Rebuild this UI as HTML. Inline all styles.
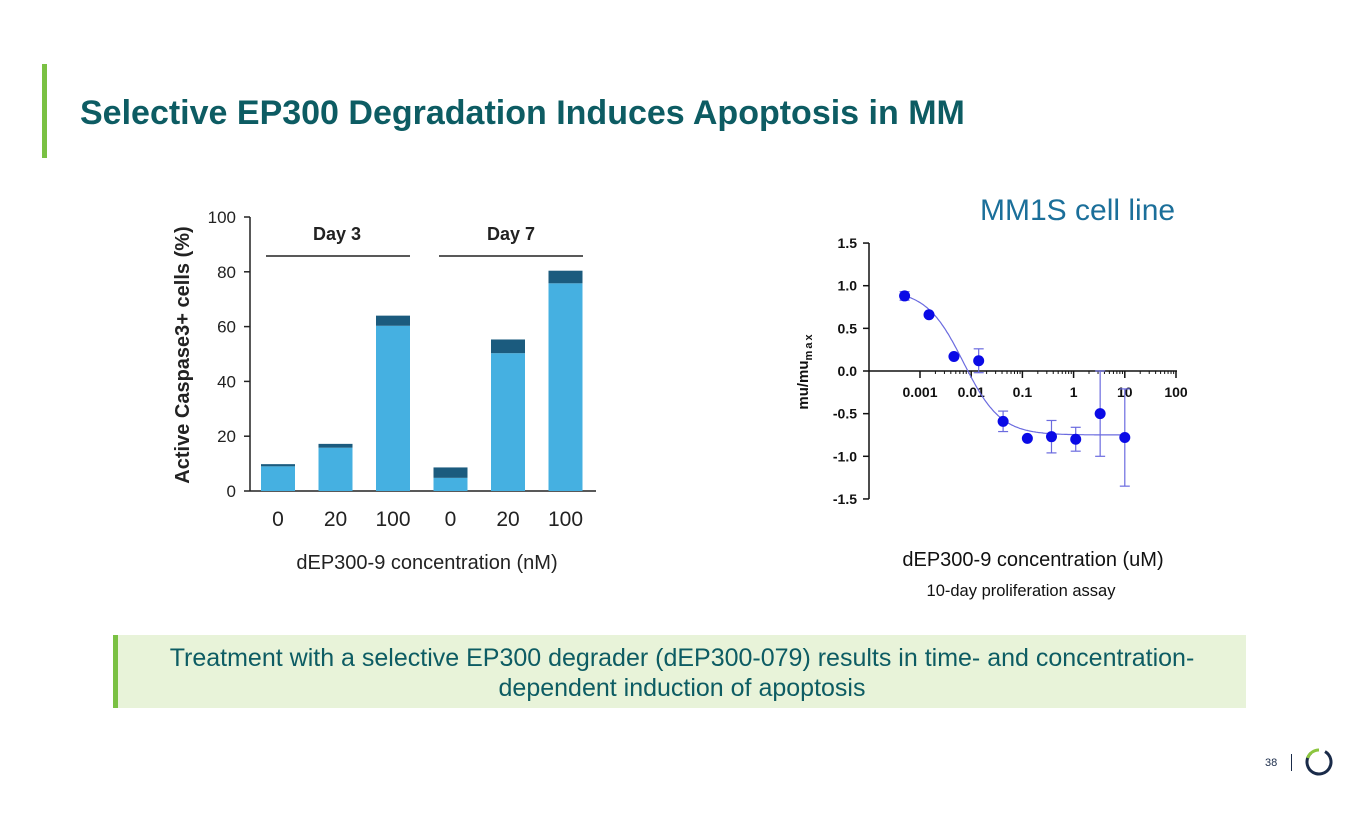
<!DOCTYPE html>
<html><head><meta charset="utf-8"><style>
body{margin:0;width:1365px;height:829px;background:#fff;position:relative;overflow:hidden;font-family:"Liberation Sans",sans-serif}
.abs{position:absolute}
</style></head><body>
<div class="abs" style="left:42px;top:64px;width:5px;height:94px;background:#7ac143"></div>
<div class="abs" style="left:80px;top:94px;font-size:34px;font-weight:bold;color:#0d5c63;white-space:nowrap">Selective EP300 Degradation Induces Apoptosis in MM</div>
<div class="abs" style="left:980px;top:194px;font-size:30px;color:#1b6f9a">MM1S cell line</div>
<svg class="abs" style="left:0;top:0" width="1365" height="829" id="svg">
<g id="bar"></g>
<g id="sc"></g>
</svg>
<div class="abs" style="left:113px;top:635px;width:1133px;height:73px;background:#e8f3d9;border-left:5px solid #7ac143;box-sizing:border-box;text-align:center;color:#0d5c63;font-size:25px;line-height:30px;padding-top:8px;white-space:nowrap">Treatment with a selective EP300 degrader (dEP300-079) results in time- and concentration-<br>dependent induction of apoptosis</div>
<div class="abs" style="left:1265px;top:757px;font-size:11px;color:#1a2b49">38</div>
<div class="abs" style="left:1291px;top:754px;width:1px;height:17px;background:#1a2b49"></div>
<svg class="abs" style="left:1303px;top:746px" width="32" height="32">
<circle cx="16" cy="16" r="12" fill="none" stroke="#1a2b49" stroke-width="3" stroke-dasharray="60 100" transform="rotate(-60 16 16)"/>
<path d="M4.6 12 A12 12 0 0 1 16 4" fill="none" stroke="#8cc63f" stroke-width="3"/>
</svg>
<script>
const NS="http://www.w3.org/2000/svg";
// bar chart data
const barCats=["0","20","100","0","20","100"];
const barLight=[9,15.8,60.3,4.8,50.3,75.8];
const barDark=[0.8,1.4,3.7,3.8,5,4.6];
const barTicks=[0,20,40,60,80,100];
// dose response data
const doseX=[0.0005,0.0015,0.0046,0.014,0.042,0.125,0.37,1.1,3.3,10];
const doseY=[0.88,0.66,0.17,0.12,-0.59,-0.79,-0.77,-0.80,-0.50,-0.78];
const doseErr=[0.05,0,0,0.14,0.12,0,0.19,0.14,0.5,0.57];
const yTicks=[1.5,1.0,0.5,0.0,-0.5,-1.0,-1.5];
const xTicks=[0.001,0.01,0.1,1,10,100];
const xTickLabels=["0.001","0.01","0.1","1","10","100"];
const fitTop=0.95,fitBottom=-0.75,fitLogEC50=-2.15,fitHill=1.2;

function mk(p,tag,a,txt){const e=document.createElementNS(NS,tag);for(const k in a)e.setAttribute(k,a[k]);if(txt!==undefined)e.textContent=txt;p.appendChild(e);return e;}
// bar chart
const bg=document.getElementById('bar');
const by=v=>491-v*2.74, bx=i=>278+i*57.5;
mk(bg,'line',{x1:250,y1:217,x2:250,y2:491,stroke:'#222','stroke-width':1.5});
mk(bg,'line',{x1:250,y1:491,x2:596,y2:491,stroke:'#222','stroke-width':1.5});
barTicks.forEach(t=>{
 const l=mk(bg,'line',{x1:244,y1:by(t),x2:250,y2:by(t),stroke:'#222','stroke-width':1.5});
 
 const tx=mk(bg,'text',{x:236,y:by(t)+6,'text-anchor':'end','font-size':17,fill:'#222'},t);
 
});
barCats.forEach((c,i)=>{
 const x=bx(i);
 const r1=mk(bg,'rect',{x:x-17,y:by(barLight[i]),width:34,height:barLight[i]*2.74,fill:'#45b0e1'});
 
 const r2=mk(bg,'rect',{x:x-17,y:by(barLight[i]+barDark[i]),width:34,height:barDark[i]*2.74,fill:'#1b5b7e'});
 
 const tx=mk(bg,'text',{x:x,y:526,'text-anchor':'middle','font-size':21,fill:'#222'},c);
 
});
mk(bg,'line',{x1:266,y1:256,x2:410,y2:256,stroke:'#222','stroke-width':1.5});
mk(bg,'line',{x1:439,y1:256,x2:583,y2:256,stroke:'#222','stroke-width':1.5});
mk(bg,'text',{x:337,y:240,'text-anchor':'middle','font-size':18,'font-weight':'bold',fill:'#222'},'Day 3');
mk(bg,'text',{x:511,y:240,'text-anchor':'middle','font-size':18,'font-weight':'bold',fill:'#222'},'Day 7');
mk(bg,'text',{x:189,y:355,'text-anchor':'middle','font-size':20,'font-weight':'bold',fill:'#222',transform:'rotate(-90 189 355)'},'Active Caspase3+ cells (%)');
mk(bg,'text',{x:427,y:569,'text-anchor':'middle','font-size':20,fill:'#222'},'dEP300-9 concentration (nM)');
// scatter
const sg=document.getElementById('sc');
const sy=v=>371-v*85.3, sx=v=>920+(Math.log10(v)+3)*51.2;
mk(sg,'line',{x1:869,y1:243,x2:869,y2:499,stroke:'#111','stroke-width':1.5});
mk(sg,'line',{x1:869,y1:371,x2:1177,y2:371,stroke:'#111','stroke-width':1.5});
yTicks.forEach(t=>{
 mk(sg,'line',{x1:863,y1:sy(t),x2:869,y2:sy(t),stroke:'#111','stroke-width':1.5});
 const tx=mk(sg,'text',{x:857,y:sy(t)+5,'text-anchor':'end','font-size':14,'font-weight':'bold',fill:'#111'},t.toFixed(1));
 
});
xTicks.forEach((t,i)=>{
 mk(sg,'line',{x1:sx(t),y1:371,x2:sx(t),y2:378,stroke:'#111','stroke-width':1.5});
 for(let k=2;k<10&&i<xTicks.length-1;k++)mk(sg,'line',{x1:sx(t*k),y1:371,x2:sx(t*k),y2:374,stroke:'#111','stroke-width':1});
 const tx=mk(sg,'text',{x:sx(t),y:397,'text-anchor':'middle','font-size':14,'font-weight':'bold',fill:'#111'},xTickLabels[i]);
 
});
let d='';
for(let lx=-3.35;lx<=1.05;lx+=0.02){const v=fitBottom+(fitTop-fitBottom)/(1+Math.pow(10,(lx-fitLogEC50)*fitHill));d+=(d?'L':'M')+sx(Math.pow(10,lx)).toFixed(1)+' '+sy(v).toFixed(1);}
const fc=mk(sg,'path',{d:d,fill:'none',stroke:'#6b6bdf','stroke-width':1.2});

doseX.forEach((x,i)=>{
 const X=sx(x),Y=sy(doseY[i]),e=doseErr[i];
 if(e>0){mk(sg,'line',{x1:X,y1:sy(doseY[i]+e),x2:X,y2:sy(doseY[i]-e),stroke:'#6b6bdf','stroke-width':1.2});
  [doseY[i]+e,doseY[i]-e].forEach(v=>mk(sg,'line',{x1:X-5,y1:sy(v),x2:X+5,y2:sy(v),stroke:'#6b6bdf','stroke-width':1.2}));}
 const c=mk(sg,'circle',{cx:X,cy:Y,r:5.5,fill:'#0a0ae6'});
 
});
const yl=mk(sg,'text',{x:808,y:371,'text-anchor':'middle','font-size':15,'font-weight':'bold',fill:'#111',transform:'rotate(-90 808 371)'},'mu/mu');
mk(yl,'tspan',{'font-size':11,dy:4,'letter-spacing':2},'max');
mk(sg,'text',{x:1033,y:566,'text-anchor':'middle','font-size':20,fill:'#111'},'dEP300-9 concentration (uM)');
mk(sg,'text',{x:1021,y:596,'text-anchor':'middle','font-size':16.5,fill:'#111'},'10-day proliferation assay');
</script>
</body></html>
